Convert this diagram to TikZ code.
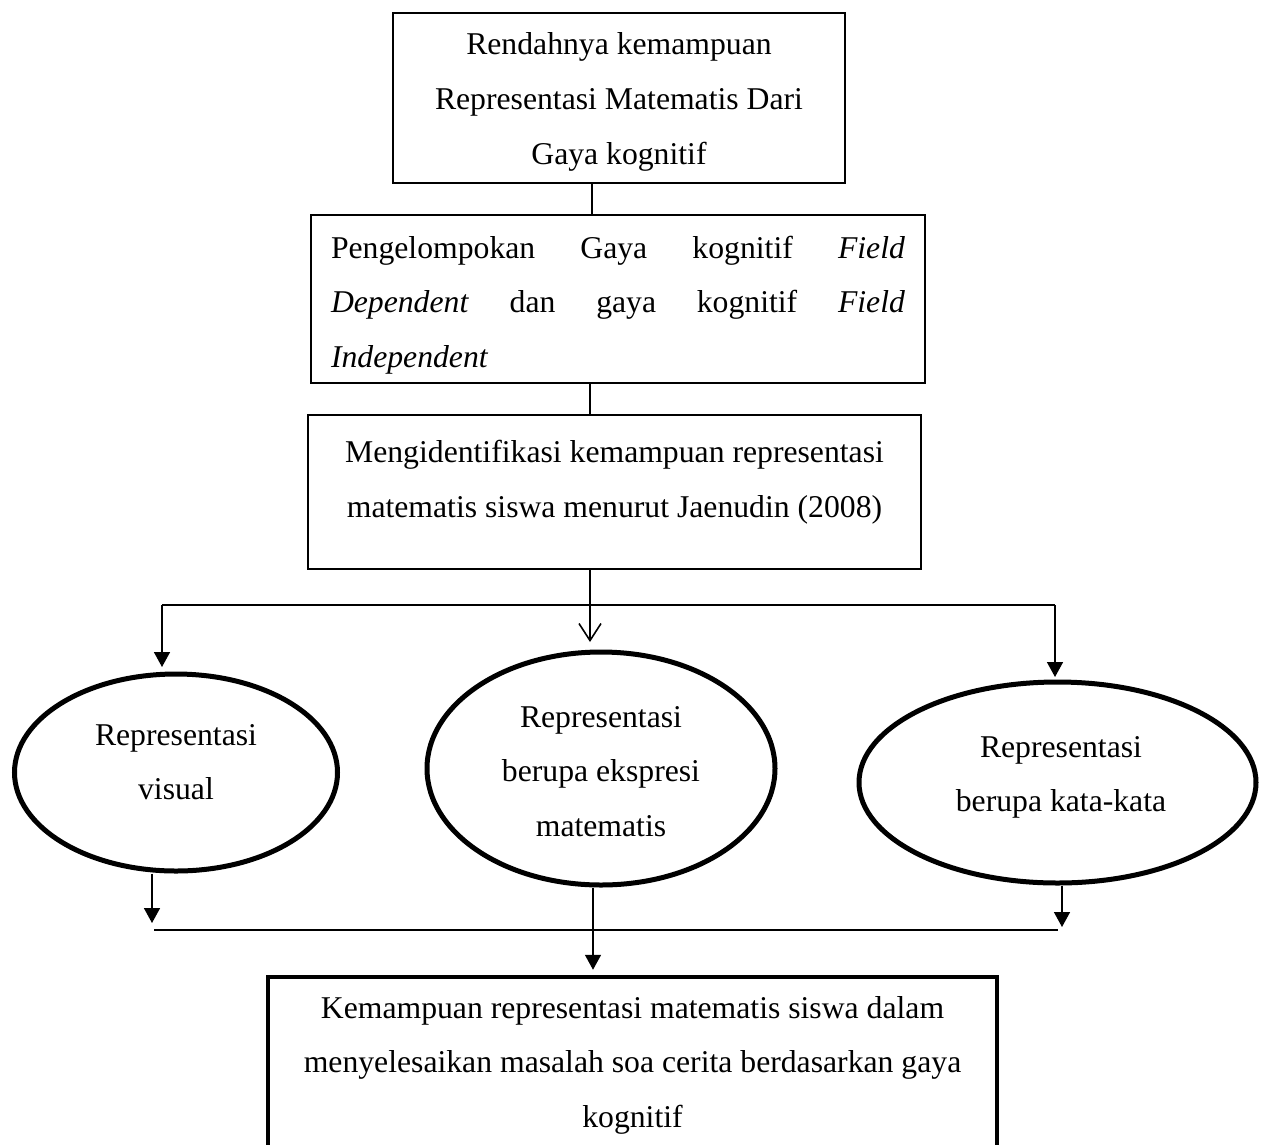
\documentclass[tikz,border=0pt]{standalone}
\usepackage{fontspec}
\setmainfont{Liberation Serif}
\usetikzlibrary{arrows.meta,shapes.geometric}
\begin{document}
\begin{tikzpicture}[x=1pt,y=-1pt,
  rbox/.style={draw, rectangle, line width=1.5pt, inner sep=0pt},
  thickbox/.style={draw, rectangle, line width=4.5pt, inner sep=0pt},
  ell/.style={draw, ellipse, line width=5pt, inner sep=0pt},
  txt/.style={font=\fontsize{31.7}{54.7}\selectfont, align=center, inner sep=0pt},
  conn/.style={line width=1.6pt},
  tri/.style={conn, -{Triangle[width=16pt,length=15pt]}},
  vee/.style={conn, -{Straight Barb[width=22pt,length=17pt]}},
]
\path[use as bounding box] (0,0) rectangle (1272,1144);
\fill[white] (0,0) rectangle (1272,1144);
\clip (0,0) rectangle (1272,1144);

% shapes
\node[rbox, minimum width=452pt, minimum height=170pt] (b1) at (619,98) {};
\node[rbox, minimum width=614pt, minimum height=168pt] (b2) at (618,299) {};
\node[rbox, minimum width=613pt, minimum height=154pt] (b3) at (614.5,492) {};
\node[thickbox, minimum width=729pt, minimum height=200pt] (b4) at (632.5,1077) {};
\node[ell, minimum width=323pt, minimum height=197pt] (e1) at (176,772.5) {};
\node[ell, minimum width=348pt, minimum height=233pt] (e2) at (601,768.5) {};
\node[ell, minimum width=397pt, minimum height=201pt] (e3) at (1057.5,782.5) {};

% texts
\node[txt] (t1) at (619,98.75) {\strut Rendahnya kemampuan\\Representasi Matematis Dari\\Gaya kognitif\strut};
\node[txt, text width=574pt, align=justify] (t2) at (618,301.8) {\strut Pengelompokan Gaya kognitif \textit{Field}\linebreak \textit{Dependent} dan gaya kognitif \textit{Field}\linebreak \textit{Independent}\strut};
\node[txt] (t3) at (614.5,479.4) {\strut Mengidentifikasi kemampuan representasi\\matematis siswa menurut Jaenudin (2008)\strut};
\node[txt] (t4) at (176,761.4) {\strut Representasi\\visual\strut};
\node[txt] (t5) at (601,770.8) {\strut Representasi\\berupa ekspresi\\matematis\strut};
\node[txt] (t6) at (1061,773.4) {\strut Representasi\\berupa kata-kata\strut};
\node[txt] (t7) at (632.5,1061.75) {\strut Kemampuan representasi matematis siswa dalam\\menyelesaikan masalah soa cerita berdasarkan gaya\\kognitif\strut};

% helper coordinates
\coordinate (x1) at (592,0);
\coordinate (x2) at (590,0);
\coordinate (xm) at (593,0);
\coordinate (busL) at (162,605);
\coordinate (busR) at (1055,605);
\coordinate (lowL) at (154,930);
\coordinate (lowR) at (1058,930);
\coordinate (tipL) at (152,923);
\coordinate (tipR) at (1062,927);

% connectors
\draw[conn] (b1.south -| x1) -- (b2.north -| x1);
\draw[conn] (b2.south -| x2) -- (b3.north -| x2);
\draw[conn] (busL) -- (busR);
\draw[vee, shorten >=7.5pt] (b3.south -| x2) -- (e2.north -| x2);
\draw[tri, shorten >=4.5pt] (busL) -- (e1.north -| busL);
\draw[tri, shorten >=2.5pt] (busR) -- (e3.north -| busR);
\draw[tri] (e1.south -| tipL) -- (tipL);
\draw[tri] (e3.south -| tipR) -- (tipR);
\draw[conn] (lowL) -- (lowR);
\draw[tri, shorten >=5pt] (e2.south -| xm) -- (b4.north -| xm);
\end{tikzpicture}
\end{document}
